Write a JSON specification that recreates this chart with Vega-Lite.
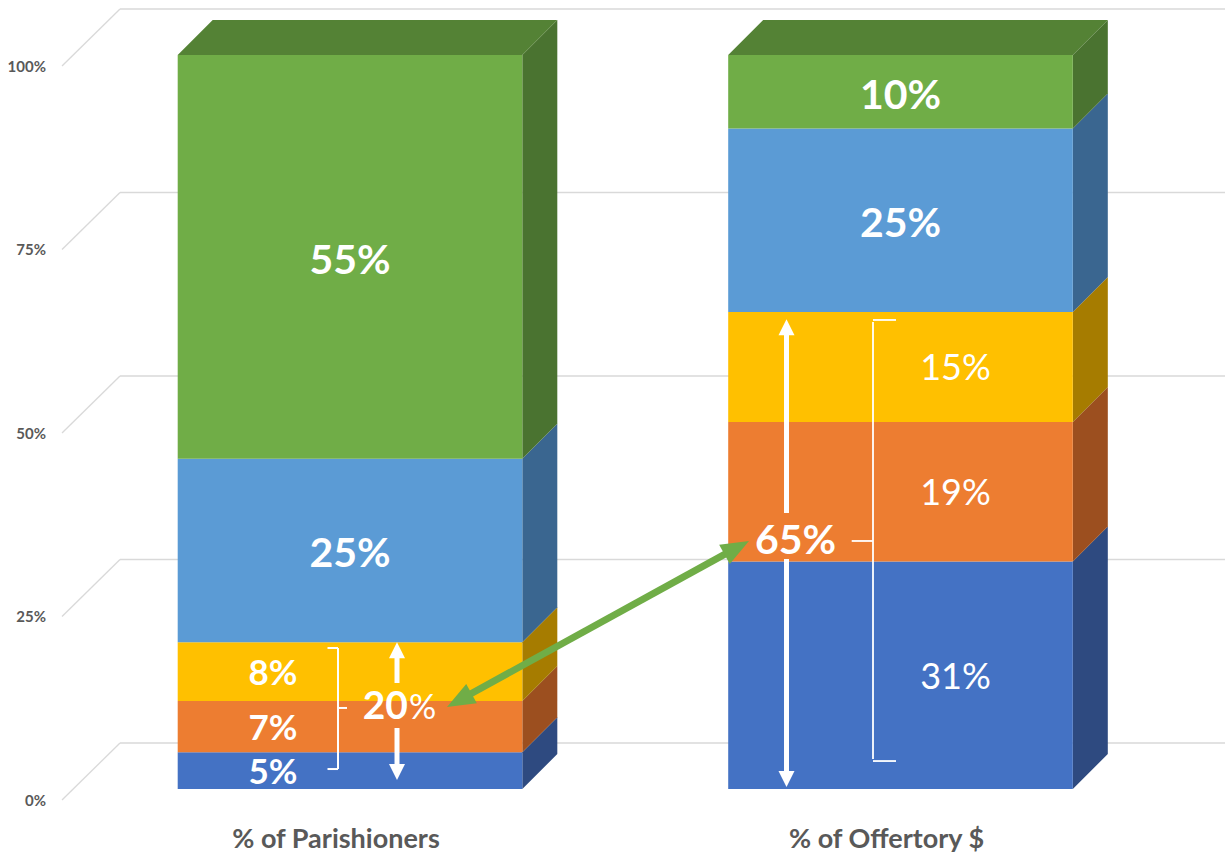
{
  "$schema": "https://vega.github.io/schema/vega-lite/v6.json",
  "width": 1225,
  "height": 856,
  "autosize": {"type": "none"},
  "padding": 0,
  "background": "white",
  "config": {"view": {"stroke": null}, "text": {"font": "Lato"}},
  "datasets": {
    "shares": [
      {"cat": "% of Parishioners", "seg": "Tier 1", "value": 5},
      {"cat": "% of Parishioners", "seg": "Tier 2", "value": 7},
      {"cat": "% of Parishioners", "seg": "Tier 3", "value": 8},
      {"cat": "% of Parishioners", "seg": "Tier 4", "value": 25},
      {"cat": "% of Parishioners", "seg": "Tier 5", "value": 55},
      {"cat": "% of Offertory $", "seg": "Tier 1", "value": 31},
      {"cat": "% of Offertory $", "seg": "Tier 2", "value": 19},
      {"cat": "% of Offertory $", "seg": "Tier 3", "value": 15},
      {"cat": "% of Offertory $", "seg": "Tier 4", "value": 25},
      {"cat": "% of Offertory $", "seg": "Tier 5", "value": 10}
    ],
    "ticks": [{"tick": 0}, {"tick": 25}, {"tick": 50}, {"tick": 75}, {"tick": 100}]
  },
  "data": {"name": "shares"},
  "transform": [
    {"stack": "value", "groupby": ["cat"], "sort": [{"field": "seg", "order": "ascending"}], "as": ["y0", "y1"]},
    {"calculate": "indexof(['% of Parishioners', '% of Offertory $'], datum.cat)", "as": "idx"},
    {"calculate": "(datum.y0 + datum.y1) / 2", "as": "mid"},
    {"calculate": "datum.value + '%'", "as": "label"}
  ],
  "layer": [
    {
      "data": {"name": "ticks"},
      "mark": {"type": "rule", "color": "#d9d9d9", "strokeWidth": 1.3, "yOffset": 11, "y2Offset": -46},
      "encoding": {
        "x": {"datum": -0.52316, "type": "quantitative", "scale": {"domain": [-0.63579, 1.58946], "nice": false, "zero": false}, "axis": null},
        "x2": {"datum": -0.4178},
        "y": {"field": "tick", "type": "quantitative", "scale": {"domain": [-9.128, 107.493], "nice": false, "zero": false}, "axis": null},
        "y2": {"field": "tick"}
      }
    },
    {
      "data": {"name": "ticks"},
      "mark": {"type": "rule", "color": "#d9d9d9", "strokeWidth": 1.3, "yOffset": -46, "y2Offset": -46},
      "encoding": {
        "x": {"datum": -0.4178, "type": "quantitative", "scale": {"domain": [-0.63579, 1.58946], "nice": false, "zero": false}, "axis": null},
        "x2": {"datum": 1.65},
        "y": {"field": "tick", "type": "quantitative", "scale": {"domain": [-9.128, 107.493], "nice": false, "zero": false}, "axis": null},
        "y2": {"field": "tick"}
      }
    },
    {
      "data": {"name": "ticks"},
      "transform": [{"calculate": "datum.tick + '%'", "as": "tickLabel"}],
      "mark": {"type": "text", "color": "#595959", "font": "Lato", "fontSize": 15, "fontWeight": "bold", "align": "right", "baseline": "middle", "yOffset": 12},
      "encoding": {
        "x": {"datum": -0.55223, "type": "quantitative", "scale": {"domain": [-0.63579, 1.58946], "nice": false, "zero": false}, "axis": null},
        "y": {"field": "tick", "type": "quantitative", "scale": {"domain": [-9.128, 107.493], "nice": false, "zero": false}, "axis": null},
        "text": {"field": "tickLabel"}
      }
    },
    {
      "transform": [
        {"calculate": "[0, 1]", "as": "pts"},
        {"flatten": ["pts"]},
        {"calculate": "datum.idx + 0.31299 + datum.pts * 0.06358", "as": "sx"},
        {"calculate": "datum.y0 + datum.pts * 4.768", "as": "sy0"},
        {"calculate": "datum.y1 + datum.pts * 4.768", "as": "sy1"}
      ],
      "mark": {"type": "area", "orient": "vertical", "interpolate": "linear"},
      "encoding": {
        "x": {"field": "sx", "type": "quantitative", "scale": {"domain": [-0.63579, 1.58946], "nice": false, "zero": false}, "axis": null},
        "y": {"field": "sy0", "type": "quantitative", "stack": null, "scale": {"domain": [-9.128, 107.493], "nice": false, "zero": false}, "axis": null},
        "y2": {"field": "sy1"},
        "detail": {"field": "cat"},
        "color": {"field": "seg", "type": "nominal", "legend": null,
                  "scale": {"domain": ["Tier 1", "Tier 2", "Tier 3", "Tier 4", "Tier 5"], "range": ["#2E4A80", "#9C4F1F", "#A67C00", "#3A6690", "#4A7330"]}}
      }
    },
    {
      "transform": [
        {"filter": "datum.seg === 'Tier 5'"},
        {"calculate": "[0, 1]", "as": "pts"},
        {"flatten": ["pts"]},
        {"calculate": "datum.idx - 0.31299 + datum.pts * 0.06358", "as": "tx0"},
        {"calculate": "datum.idx + 0.31299 + datum.pts * 0.06358", "as": "tx1"},
        {"calculate": "datum.y1 + datum.pts * 4.768", "as": "ty"}
      ],
      "mark": {"type": "area", "orient": "horizontal", "interpolate": "linear", "color": "#548235"},
      "encoding": {
        "y": {"field": "ty", "type": "quantitative", "scale": {"domain": [-9.128, 107.493], "nice": false, "zero": false}, "axis": null},
        "x": {"field": "tx0", "type": "quantitative", "stack": null, "scale": {"domain": [-0.63579, 1.58946], "nice": false, "zero": false}, "axis": null},
        "x2": {"field": "tx1"},
        "detail": {"field": "cat"}
      }
    },
    {
      "transform": [
        {"calculate": "datum.idx - 0.31299", "as": "xl"},
        {"calculate": "datum.idx + 0.31299", "as": "xr"}
      ],
      "mark": {"type": "rect"},
      "encoding": {
        "x": {"field": "xl", "type": "quantitative", "scale": {"domain": [-0.63579, 1.58946], "nice": false, "zero": false}, "axis": null},
        "x2": {"field": "xr"},
        "y": {"field": "y0", "type": "quantitative", "scale": {"domain": [-9.128, 107.493], "nice": false, "zero": false}, "axis": null},
        "y2": {"field": "y1"},
        "color": {"field": "seg", "type": "nominal", "legend": null,
                  "scale": {"domain": ["Tier 1", "Tier 2", "Tier 3", "Tier 4", "Tier 5"], "range": ["#4472C4", "#ED7D31", "#FFC000", "#5B9BD5", "#70AD47"]}}
      }
    },
    {
      "transform": [{"filter": "datum.seg === 'Tier 4' || datum.seg === 'Tier 5'"}],
      "mark": {"type": "text", "color": "white", "font": "Lato", "fontSize": 41, "fontWeight": "bold", "align": "center", "baseline": "alphabetic", "yOffset": 17},
      "encoding": {
        "x": {"field": "idx", "type": "quantitative", "scale": {"domain": [-0.63579, 1.58946], "nice": false, "zero": false}, "axis": null},
        "y": {"field": "mid", "type": "quantitative", "scale": {"domain": [-9.128, 107.493], "nice": false, "zero": false}, "axis": null},
        "text": {"field": "label"}
      }
    },
    {
      "transform": [{"filter": "datum.idx === 0 && datum.seg <= 'Tier 3'"}],
      "mark": {"type": "text", "color": "white", "font": "Lato", "fontSize": 35, "fontWeight": "bold", "align": "center", "baseline": "alphabetic", "xOffset": -77, "yOffset": 13.5},
      "encoding": {
        "x": {"field": "idx", "type": "quantitative", "scale": {"domain": [-0.63579, 1.58946], "nice": false, "zero": false}, "axis": null},
        "y": {"field": "mid", "type": "quantitative", "scale": {"domain": [-9.128, 107.493], "nice": false, "zero": false}, "axis": null},
        "text": {"field": "label"}
      }
    },
    {
      "transform": [{"filter": "datum.idx === 1 && datum.seg <= 'Tier 3'"}],
      "mark": {"type": "text", "color": "white", "font": "Lato", "fontSize": 36, "fontWeight": "normal", "align": "center", "baseline": "alphabetic", "xOffset": 55, "yOffset": 13.5},
      "encoding": {
        "x": {"field": "idx", "type": "quantitative", "scale": {"domain": [-0.63579, 1.58946], "nice": false, "zero": false}, "axis": null},
        "y": {"field": "mid", "type": "quantitative", "scale": {"domain": [-9.128, 107.493], "nice": false, "zero": false}, "axis": null},
        "text": {"field": "label"}
      }
    },
    {
      "transform": [{"filter": "datum.seg === 'Tier 1'"}],
      "mark": {"type": "text", "color": "#595959", "font": "Lato", "fontSize": 27, "fontWeight": "bold", "align": "center", "baseline": "alphabetic", "xOffset": -14, "yOffset": 59},
      "encoding": {
        "x": {"field": "idx", "type": "quantitative", "scale": {"domain": [-0.63579, 1.58946], "nice": false, "zero": false}, "axis": null},
        "y": {"datum": 0, "type": "quantitative", "scale": {"domain": [-9.128, 107.493], "nice": false, "zero": false}, "axis": null},
        "text": {"field": "cat"}
      }
    },
    {
      "data": {"values": [{}]},
      "mark": {"type": "rule", "color": "white", "strokeWidth": 5, "yOffset": 12},
      "encoding": {
        "x": {"datum": 0.08538, "type": "quantitative", "scale": {"domain": [-0.63579, 1.58946], "nice": false, "zero": false}, "axis": null},
        "y": {"datum": 20, "type": "quantitative", "scale": {"domain": [-9.128, 107.493], "nice": false, "zero": false}, "axis": null},
        "y2": {"datum": 14.44}
      }
    },
    {
      "data": {"values": [{}]},
      "mark": {"type": "rule", "color": "white", "strokeWidth": 5, "y2Offset": -12},
      "encoding": {
        "x": {"datum": 0.08538, "type": "quantitative", "scale": {"domain": [-0.63579, 1.58946], "nice": false, "zero": false}, "axis": null},
        "y": {"datum": 8.31, "type": "quantitative", "scale": {"domain": [-9.128, 107.493], "nice": false, "zero": false}, "axis": null},
        "y2": {"datum": 1.23}
      }
    },
    {
      "data": {"values": [{}]},
      "mark": {"type": "point", "shape": "M0,0L0.8,1.6L-0.8,1.6Z", "size": 400, "filled": true, "color": "white", "opacity": 1},
      "encoding": {
        "x": {"datum": 0.08538, "type": "quantitative", "scale": {"domain": [-0.63579, 1.58946], "nice": false, "zero": false}, "axis": null},
        "y": {"datum": 20, "type": "quantitative", "scale": {"domain": [-9.128, 107.493], "nice": false, "zero": false}, "axis": null}
      }
    },
    {
      "data": {"values": [{}]},
      "mark": {"type": "point", "shape": "M0,0L0.8,-1.6L-0.8,-1.6Z", "size": 400, "filled": true, "color": "white", "opacity": 1},
      "encoding": {
        "x": {"datum": 0.08538, "type": "quantitative", "scale": {"domain": [-0.63579, 1.58946], "nice": false, "zero": false}, "axis": null},
        "y": {"datum": 1.23, "type": "quantitative", "scale": {"domain": [-9.128, 107.493], "nice": false, "zero": false}, "axis": null}
      }
    },
    {
      "data": {"values": [{}]},
      "mark": {"type": "rule", "color": "white", "strokeWidth": 2},
      "encoding": {
        "x": {"datum": -0.0218, "type": "quantitative", "scale": {"domain": [-0.63579, 1.58946], "nice": false, "zero": false}, "axis": null},
        "y": {"datum": 19.21, "type": "quantitative", "scale": {"domain": [-9.128, 107.493], "nice": false, "zero": false}, "axis": null},
        "y2": {"datum": 2.72}
      }
    },
    {
      "data": {"values": [{}]},
      "mark": {"type": "rule", "color": "white", "strokeWidth": 2},
      "encoding": {
        "x": {"datum": -0.04087, "type": "quantitative", "scale": {"domain": [-0.63579, 1.58946], "nice": false, "zero": false}, "axis": null},
        "x2": {"datum": -0.0218},
        "y": {"datum": 19.21, "type": "quantitative", "scale": {"domain": [-9.128, 107.493], "nice": false, "zero": false}, "axis": null}
      }
    },
    {
      "data": {"values": [{}]},
      "mark": {"type": "rule", "color": "white", "strokeWidth": 2},
      "encoding": {
        "x": {"datum": -0.04087, "type": "quantitative", "scale": {"domain": [-0.63579, 1.58946], "nice": false, "zero": false}, "axis": null},
        "x2": {"datum": -0.0218},
        "y": {"datum": 2.72, "type": "quantitative", "scale": {"domain": [-9.128, 107.493], "nice": false, "zero": false}, "axis": null}
      }
    },
    {
      "data": {"values": [{}]},
      "mark": {"type": "rule", "color": "white", "strokeWidth": 2},
      "encoding": {
        "x": {"datum": -0.0218, "type": "quantitative", "scale": {"domain": [-0.63579, 1.58946], "nice": false, "zero": false}, "axis": null},
        "x2": {"datum": -0.00545},
        "y": {"datum": 11.04, "type": "quantitative", "scale": {"domain": [-9.128, 107.493], "nice": false, "zero": false}, "axis": null}
      }
    },
    {
      "data": {"values": [{}]},
      "mark": {"type": "text", "color": "white", "font": "Lato", "fontSize": 39, "fontWeight": "bold", "align": "right", "baseline": "alphabetic"},
      "encoding": {
        "x": {"datum": 0.10536, "type": "quantitative", "scale": {"domain": [-0.63579, 1.58946], "nice": false, "zero": false}, "axis": null},
        "y": {"datum": 9.54, "type": "quantitative", "scale": {"domain": [-9.128, 107.493], "nice": false, "zero": false}, "axis": null},
        "text": {"value": "20"}
      }
    },
    {
      "data": {"values": [{}]},
      "mark": {"type": "text", "color": "white", "font": "Lato", "fontSize": 34, "fontWeight": "normal", "align": "left", "baseline": "alphabetic", "xOffset": 1},
      "encoding": {
        "x": {"datum": 0.10536, "type": "quantitative", "scale": {"domain": [-0.63579, 1.58946], "nice": false, "zero": false}, "axis": null},
        "y": {"datum": 9.54, "type": "quantitative", "scale": {"domain": [-9.128, 107.493], "nice": false, "zero": false}, "axis": null},
        "text": {"value": "%"}
      }
    },
    {
      "data": {"values": [{}]},
      "mark": {"type": "text", "color": "white", "font": "Lato", "fontSize": 41, "fontWeight": "bold", "align": "center", "baseline": "alphabetic"},
      "encoding": {
        "x": {"datum": 0.80926, "type": "quantitative", "scale": {"domain": [-0.63579, 1.58946], "nice": false, "zero": false}, "axis": null},
        "y": {"datum": 32.02, "type": "quantitative", "scale": {"domain": [-9.128, 107.493], "nice": false, "zero": false}, "axis": null},
        "text": {"value": "65%"}
      }
    },
    {
      "data": {"values": [{}]},
      "mark": {"type": "rule", "color": "white", "strokeWidth": 5, "yOffset": 12},
      "encoding": {
        "x": {"datum": 0.79292, "type": "quantitative", "scale": {"domain": [-0.63579, 1.58946], "nice": false, "zero": false}, "axis": null},
        "y": {"datum": 64, "type": "quantitative", "scale": {"domain": [-9.128, 107.493], "nice": false, "zero": false}, "axis": null},
        "y2": {"datum": 37.6}
      }
    },
    {
      "data": {"values": [{}]},
      "mark": {"type": "rule", "color": "white", "strokeWidth": 5, "y2Offset": -12},
      "encoding": {
        "x": {"datum": 0.79292, "type": "quantitative", "scale": {"domain": [-0.63579, 1.58946], "nice": false, "zero": false}, "axis": null},
        "y": {"datum": 31.34, "type": "quantitative", "scale": {"domain": [-9.128, 107.493], "nice": false, "zero": false}, "axis": null},
        "y2": {"datum": 0.27}
      }
    },
    {
      "data": {"values": [{}]},
      "mark": {"type": "point", "shape": "M0,0L0.8,1.6L-0.8,1.6Z", "size": 400, "filled": true, "color": "white", "opacity": 1},
      "encoding": {
        "x": {"datum": 0.79292, "type": "quantitative", "scale": {"domain": [-0.63579, 1.58946], "nice": false, "zero": false}, "axis": null},
        "y": {"datum": 64, "type": "quantitative", "scale": {"domain": [-9.128, 107.493], "nice": false, "zero": false}, "axis": null}
      }
    },
    {
      "data": {"values": [{}]},
      "mark": {"type": "point", "shape": "M0,0L0.8,-1.6L-0.8,-1.6Z", "size": 400, "filled": true, "color": "white", "opacity": 1},
      "encoding": {
        "x": {"datum": 0.79292, "type": "quantitative", "scale": {"domain": [-0.63579, 1.58946], "nice": false, "zero": false}, "axis": null},
        "y": {"datum": 0.27, "type": "quantitative", "scale": {"domain": [-9.128, 107.493], "nice": false, "zero": false}, "axis": null}
      }
    },
    {
      "data": {"values": [{}]},
      "mark": {"type": "rule", "color": "white", "strokeWidth": 1.8},
      "encoding": {
        "x": {"datum": 0.95005, "type": "quantitative", "scale": {"domain": [-0.63579, 1.58946], "nice": false, "zero": false}, "axis": null},
        "y": {"datum": 63.62, "type": "quantitative", "scale": {"domain": [-9.128, 107.493], "nice": false, "zero": false}, "axis": null},
        "y2": {"datum": 4.09}
      }
    },
    {
      "data": {"values": [{}]},
      "mark": {"type": "rule", "color": "white", "strokeWidth": 1.8},
      "encoding": {
        "x": {"datum": 0.95005, "type": "quantitative", "scale": {"domain": [-0.63579, 1.58946], "nice": false, "zero": false}, "axis": null},
        "x2": {"datum": 0.99183},
        "y": {"datum": 63.9, "type": "quantitative", "scale": {"domain": [-9.128, 107.493], "nice": false, "zero": false}, "axis": null}
      }
    },
    {
      "data": {"values": [{}]},
      "mark": {"type": "rule", "color": "white", "strokeWidth": 1.8},
      "encoding": {
        "x": {"datum": 0.95005, "type": "quantitative", "scale": {"domain": [-0.63579, 1.58946], "nice": false, "zero": false}, "axis": null},
        "x2": {"datum": 0.99183},
        "y": {"datum": 3.81, "type": "quantitative", "scale": {"domain": [-9.128, 107.493], "nice": false, "zero": false}, "axis": null}
      }
    },
    {
      "data": {"values": [{}]},
      "mark": {"type": "rule", "color": "white", "strokeWidth": 1.8},
      "encoding": {
        "x": {"datum": 0.91135, "type": "quantitative", "scale": {"domain": [-0.63579, 1.58946], "nice": false, "zero": false}, "axis": null},
        "x2": {"datum": 0.95005},
        "y": {"datum": 33.79, "type": "quantitative", "scale": {"domain": [-9.128, 107.493], "nice": false, "zero": false}, "axis": null}
      }
    },
    {
      "data": {"values": [{}]},
      "mark": {"type": "rule", "color": "#70AD47", "strokeWidth": 7},
      "encoding": {
        "x": {"datum": 0.19982, "type": "quantitative", "scale": {"domain": [-0.63579, 1.58946], "nice": false, "zero": false}, "axis": null},
        "x2": {"datum": 0.701},
        "y": {"datum": 12.16, "type": "quantitative", "scale": {"domain": [-9.128, 107.493], "nice": false, "zero": false}, "axis": null},
        "y2": {"datum": 32.81}
      }
    },
    {
      "data": {"values": [{}]},
      "mark": {"type": "point", "shape": "M0,0L-2.8,-1.1L-2.8,1.1Z", "size": 400, "filled": true, "color": "#70AD47", "opacity": 1, "angle": -28.8},
      "encoding": {
        "x": {"datum": 0.7248, "type": "quantitative", "scale": {"domain": [-0.63579, 1.58946], "nice": false, "zero": false}, "axis": null},
        "y": {"datum": 33.79, "type": "quantitative", "scale": {"domain": [-9.128, 107.493], "nice": false, "zero": false}, "axis": null}
      }
    },
    {
      "data": {"values": [{}]},
      "mark": {"type": "point", "shape": "M0,0L-2.8,-1.1L-2.8,1.1Z", "size": 400, "filled": true, "color": "#70AD47", "opacity": 1, "angle": 151.2},
      "encoding": {
        "x": {"datum": 0.1762, "type": "quantitative", "scale": {"domain": [-0.63579, 1.58946], "nice": false, "zero": false}, "axis": null},
        "y": {"datum": 11.17, "type": "quantitative", "scale": {"domain": [-9.128, 107.493], "nice": false, "zero": false}, "axis": null}
      }
    }
  ],
  "resolve": {"scale": {"color": "independent"}}
}
